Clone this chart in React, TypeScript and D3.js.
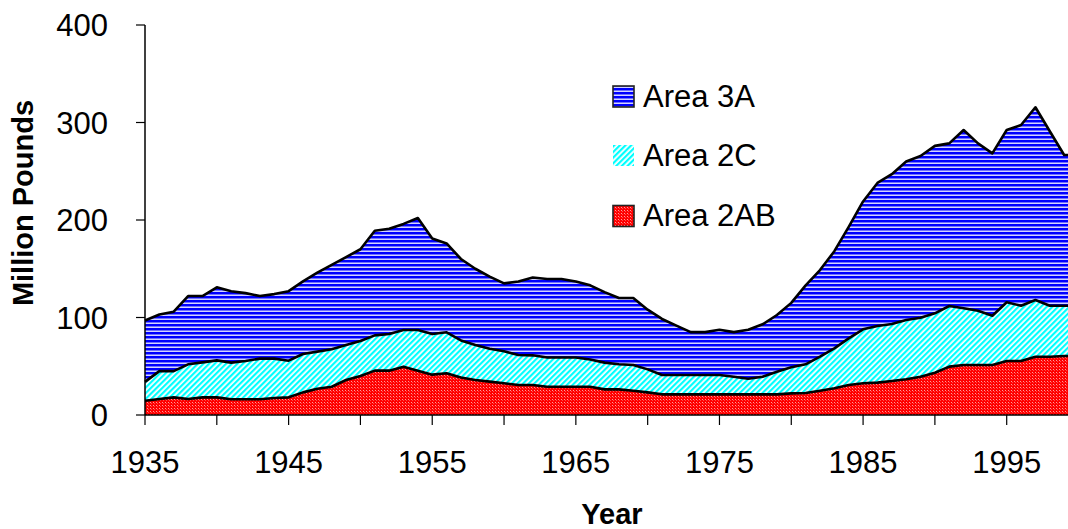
import React from "react";
import * as d3 from "d3";

// Halibut catch by regulatory area, million pounds (net weight)
const years: number[] = d3.range(1935, 2001);

const area2AB: number[] = [
  14.7, 16.4, 18.1, 16.4, 18.1, 18.1, 16.1, 16.1, 16.1, 17.4,
  18.1, 23.2, 27.0, 29.0, 35.9, 40.0, 45.5, 45.5, 49.6, 45.5,
  41.4, 42.8, 38.5, 35.9, 34.2, 32.5, 30.8, 30.8, 29.0, 29.0,
  29.0, 29.0, 26.3, 26.3, 24.9, 23.2, 21.2, 21.2, 21.2, 21.2,
  21.2, 21.2, 21.2, 21.2, 21.2, 22.2, 22.5, 24.9, 27.4, 30.8,
  32.5, 33.2, 34.9, 36.6, 39.3, 43.4, 49.6, 51.3, 51.3, 51.3,
  55.4, 55.4, 59.8, 59.8, 60.5, 60.5,
];

const area2C: number[] = [
  19.3, 28.6, 26.9, 35.6, 35.9, 37.9, 37.6, 39.3, 41.7, 40.4,
  37.6, 39.4, 38.0, 38.4, 35.9, 35.9, 36.2, 37.5, 37.6, 41.7,
  41.6, 42.0, 38.0, 35.9, 33.8, 32.8, 30.7, 30.4, 30.0, 30.0,
  30.0, 28.0, 27.4, 25.7, 26.4, 23.6, 19.8, 19.8, 19.8, 19.8,
  19.8, 18.1, 16.0, 18.1, 23.2, 26.7, 29.5, 34.9, 41.0, 47.8,
  55.4, 58.1, 58.4, 60.8, 60.5, 60.9, 62.2, 58.1, 55.7, 50.5,
  60.2, 56.7, 58.1, 52.3, 51.6, 51.6,
];

const area3A: number[] = [
  63.0, 58.0, 61.0, 70.0, 68.0, 75.0, 73.3, 69.6, 64.2, 66.2,
  71.3, 74.4, 81.0, 86.6, 90.2, 94.1, 107.3, 108.0, 108.8, 114.8,
  98.0, 91.2, 83.5, 78.2, 74.0, 69.7, 75.5, 79.8, 80.5, 80.5,
  78.0, 76.0, 72.3, 68.0, 68.7, 61.2, 57.5, 50.6, 44.0, 44.0,
  46.5, 45.7, 50.3, 53.7, 58.2, 66.1, 81.0, 88.9, 99.6, 114.4,
  131.1, 146.7, 153.7, 162.6, 165.8, 171.7, 166.8, 182.9, 171.6, 166.6,
  176.7, 185.3, 197.7, 178.9, 154.6, 154.6,
];

const seriesKeys = ["Area 2AB", "Area 2C", "Area 3A"];
const yTicks = [0, 100, 200, 300, 400];
const xLabelYears = [1935, 1945, 1955, 1965, 1975, 1985, 1995];
const xTickYears = d3.range(1935, 2000, 5);

const FONT = "'Liberation Sans', Arial, Helvetica, sans-serif";

export default function App() {
  const width = 1068;
  const height = 529;

  const x = d3.scaleLinear().domain([1935, 1995]).range([145, 1006.7]);
  const y = d3.scaleLinear().domain([0, 400]).range([415, 25]);

  const rows = years.map((yr, i) => ({
    year: yr,
    "Area 2AB": area2AB[i],
    "Area 2C": area2C[i],
    "Area 3A": area3A[i],
  }));
  const stacked = d3.stack<any>().keys(seriesKeys)(rows);

  const areaGen = d3
    .area<any>()
    .x((d) => x(d.data.year))
    .y0((d) => y(d[0]))
    .y1((d) => y(d[1]));
  const lineGen = d3
    .line<any>()
    .x((d) => x(d.data.year))
    .y((d) => y(d[1]));

  const fills: Record<string, string> = {
    "Area 2AB": "url(#pat2AB)",
    "Area 2C": "url(#pat2C)",
    "Area 3A": "url(#pat3A)",
  };

  const legend = [
    { key: "Area 3A", cy: 96.5, border: true },
    { key: "Area 2C", cy: 155.5, border: false },
    { key: "Area 2AB", cy: 216, border: true },
  ];

  return (
    <svg
      width={width}
      height={height}
      style={{ position: "absolute", left: 0, top: 0, background: "#fff" }}
    >
      <defs>
        {/* blue horizontal hatching */}
        <pattern id="pat3A" width="4" height="4" patternUnits="userSpaceOnUse">
          <rect width="4" height="4" fill="#d4d4ff" shapeRendering="crispEdges" />
          <rect width="4" height="2" fill="#0000ff" shapeRendering="crispEdges" />
          <rect y="2" width="4" height="1" fill="#7070ff" shapeRendering="crispEdges" />
        </pattern>
        {/* cyan diagonal hatching */}
        <pattern
          id="pat2C"
          width="4"
          height="4"
          patternUnits="userSpaceOnUse"
          patternTransform="rotate(45)"
        >
          <rect width="4" height="4" fill="#fff" />
          <rect width="2.2" height="4" fill="#00ffff" />
        </pattern>
        {/* red fine dotted texture */}
        <pattern id="pat2AB" width="3" height="3" patternUnits="userSpaceOnUse">
          <rect width="3" height="3" fill="#ff0000" shapeRendering="crispEdges" />
          <rect x="0" y="0" width="1" height="1" fill="#ff9a9a" shapeRendering="crispEdges" />
          <rect x="1" y="1" width="1" height="1" fill="#ff4a4a" shapeRendering="crispEdges" />
        </pattern>
      </defs>

      {/* stacked areas */}
      {stacked.map((s) => (
        <path key={s.key} d={areaGen(s) || ""} fill={fills[s.key]} />
      ))}
      {stacked.map((s) => (
        <path
          key={s.key + "-line"}
          d={lineGen(s) || ""}
          fill="none"
          stroke="#000"
          strokeWidth={2.6}
          strokeLinejoin="round"
        />
      ))}

      {/* y axis */}
      <line x1={145} x2={145} y1={y(400)} y2={y(0)} stroke="#000" strokeWidth={1.5} />
      {yTicks.map((t) => (
        <g key={"yt" + t}>
          <line x1={136} x2={145} y1={y(t)} y2={y(t)} stroke="#000" strokeWidth={1.2} />
          <text
            x={108}
            y={y(t) + 11}
            textAnchor="end"
            fontFamily={FONT}
            fontSize={31}
            fill="#000"
          >
            {t}
          </text>
        </g>
      ))}

      {/* x axis */}
      <line x1={145} x2={width} y1={y(0)} y2={y(0)} stroke="#000" strokeWidth={1.5} />
      {xTickYears.map((t) => (
        <line
          key={"xt" + t}
          x1={x(t)}
          x2={x(t)}
          y1={y(0)}
          y2={y(0) + 10}
          stroke="#000"
          strokeWidth={1.2}
        />
      ))}
      {xLabelYears.map((t) => (
        <text
          key={"xl" + t}
          x={x(t)}
          y={473}
          textAnchor="middle"
          fontFamily={FONT}
          fontSize={31}
          fill="#000"
        >
          {t}
        </text>
      ))}

      {/* axis titles */}
      <text
        x={612}
        y={524}
        textAnchor="middle"
        fontFamily={FONT}
        fontSize={29}
        fontWeight="bold"
        fill="#000"
      >
        Year
      </text>
      <text
        transform={`translate(33,203) rotate(-90)`}
        textAnchor="middle"
        fontFamily={FONT}
        fontSize={29}
        fontWeight="bold"
        fill="#000"
      >
        Million Pounds
      </text>

      {/* legend */}
      {legend.map((l) => (
        <g key={"lg" + l.key}>
          <rect
            x={613}
            y={l.cy - 10.5}
            width={21}
            height={21}
            fill={fills[l.key]}
            stroke={l.border ? "#222" : "none"}
            strokeWidth={1.6}
          />
          <text
            x={643}
            y={l.cy + 10}
            fontFamily={FONT}
            fontSize={31}
            fill="#000"
          >
            {l.key}
          </text>
        </g>
      ))}
    </svg>
  );
}
